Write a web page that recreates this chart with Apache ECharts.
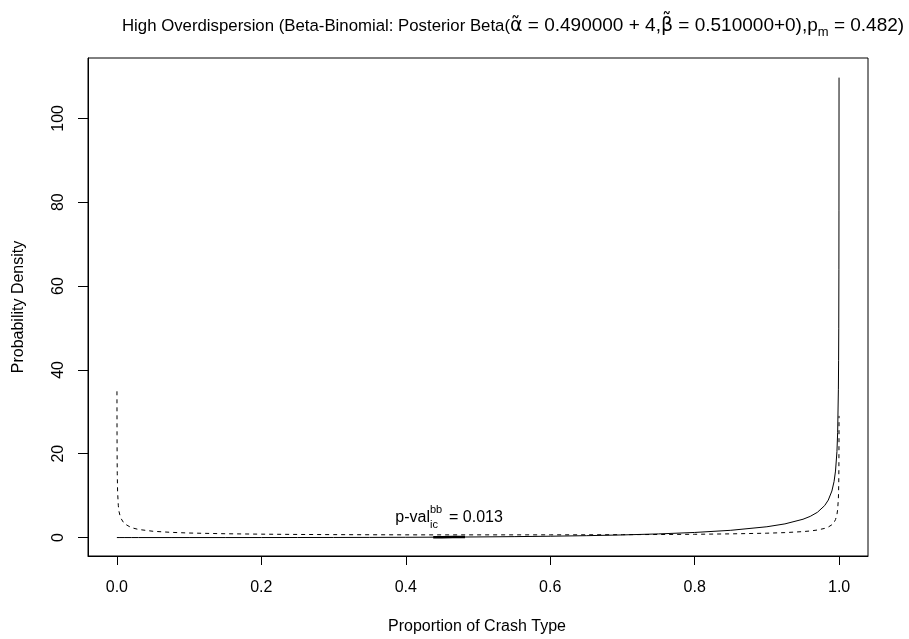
<!DOCTYPE html>
<html>
<head>
<meta charset="utf-8">
<script src="https://cdn.jsdelivr.net/npm/echarts@6/dist/echarts.min.js"></script>
<style>
html,body{margin:0;padding:0;background:#fff;}
#c{width:909px;height:639px;}
</style>
</head>
<body>
<div id="c"></div>
<script>
// Grid of proportions (denser near the ends)
var xs = [0, 0.0001, 0.0002, 0.0003, 0.0005, 0.001, 0.002, 0.003, 0.005, 0.01,
  0.02, 0.03, 0.05, 0.075, 0.1, 0.15, 0.2, 0.25, 0.3, 0.35,
  0.4, 0.45, 0.5, 0.55, 0.6, 0.65, 0.7, 0.75, 0.8, 0.85,
  0.9, 0.925, 0.95, 0.96, 0.97, 0.98, 0.985, 0.99, 0.993, 0.995,
  0.997, 0.998, 0.999, 0.9993, 0.9995, 0.9997, 0.9998, 0.9999];
// Prior density (dashed)
var priorDensity = [null, 34.89, 24.50, 19.92, 15.36, 10.79, 7.58, 6.17, 4.76, 3.35,
  2.36, 1.93, 1.50, 1.24, 1.08, 0.91, 0.81, 0.74, 0.70, 0.67,
  0.65, 0.64, 0.64, 0.64, 0.65, 0.66, 0.69, 0.73, 0.78, 0.88,
  1.04, 1.18, 1.42, 1.57, 1.80, 2.19, 2.51, 3.05, 3.63, 4.28,
  5.49, 6.69, 9.40, 11.18, 13.19, 16.94, 20.66, 29.02];
// Posterior density (solid)
var postDensity = [0, 0, 0, 0, 0, 0, 0, 0, 0, 0,
  0, 0, 0, 0, 0.0004, 0.002, 0.005, 0.011, 0.021, 0.038,
  0.063, 0.099, 0.151, 0.221, 0.317, 0.448, 0.625, 0.870, 1.216, 1.728,
  2.575, 3.262, 4.367, 5.053, 6.032, 7.627, 8.938, 11.10, 13.36, 15.86,
  20.52, 25.11, 35.39, 42.19, 49.79, 64.01, 78.10, 109.72];
// Tail region up to p_m
var tailX = [0.438, 0.45, 0.465, 0.482];
var tailY = [0.090, 0.099, 0.113, 0.130];
// Tick labels
var xTicks = [0, 0.2, 0.4, 0.6, 0.8, 1.0];
var yTicks = [0, 20, 40, 60, 80, 100];

function pairs(a, b) { return a.map(function (v, i) { return [v, b[i]]; }); }

var FONT = '"Liberation Sans", Arial, sans-serif';
var chart = echarts.init(document.getElementById('c'), null, {renderer: 'canvas'});
var base = {fontFamily: FONT, fontWeight: 'normal', color: '#000', lineHeight: 26, verticalAlign: 'middle'};
function st(o) { var r = {}; for (var k in base) r[k] = base[k]; for (var k2 in o) r[k2] = o[k2]; return r; }
chart.setOption({
  animation: false,
  backgroundColor: '#fff',
  textStyle: {fontFamily: FONT},
  title: {
    text: '{t|High Overdispersion (Beta-Binomial: Posterior Beta(}{g|\u03b1\u0303}{m| = 0.490000 + 4,}{g|\u03b2\u0303}{m| = 0.510000+0),p}{s|m}{m| = 0.482)}',
    left: 117, top: 8,
    textStyle: {
      fontWeight: 'normal',
      rich: {
        t: st({fontSize: 16.8}),
        m: st({fontSize: 19}),
        g: st({fontSize: 19, fontFamily: '"DejaVu Sans", sans-serif'}),
        s: st({fontSize: 13, verticalAlign: 'bottom'})
      }
    }
  },
  grid: {left: 88, top: 58, width: 780, height: 498, show: true, borderColor: '#000', borderWidth: 1, backgroundColor: 'transparent'},
  xAxis: {
    type: 'value', min: -0.04, max: 1.04,
    axisLine: {show: true, onZero: false, lineStyle: {color: '#000', width: 1}},
    splitLine: {show: false},
    axisTick: {show: true, length: 9, lineStyle: {color: '#000'}, customValues: xTicks},
    axisLabel: {customValues: xTicks, margin: 24, fontSize: 16, color: '#000', fontFamily: FONT,
      formatter: function (v) { return v.toFixed(1); }}
  },
  yAxis: {
    type: 'value', min: -4.4, max: 114.4,
    axisLine: {show: true, onZero: false, lineStyle: {color: '#000', width: 1}},
    splitLine: {show: false},
    axisTick: {show: true, length: 10, lineStyle: {color: '#000'}, customValues: yTicks},
    axisLabel: {customValues: yTicks, margin: 21, rotate: 90, fontSize: 16, color: '#000', fontFamily: FONT}
  },
  series: [
    {type: 'line', data: pairs(xs, postDensity), showSymbol: false, symbol: 'none',
      lineStyle: {color: '#000', width: 1}, z: 3},
    {type: 'line', data: pairs(xs, priorDensity), showSymbol: false, symbol: 'none',
      lineStyle: {color: '#000', width: 1, type: [4, 4]}, z: 2},
    {type: 'line', data: pairs(tailX, tailY), showSymbol: false, symbol: 'none',
      lineStyle: {color: '#000', width: 2.5}, z: 4}
  ],
  graphic: [
    {type: 'text', x: 477, y: 627, style: {text: 'Proportion of Crash Type', font: '16px ' + FONT, fill: '#000', textAlign: 'center', textVerticalAlign: 'middle'}},
    {type: 'text', rotation: Math.PI / 2, x: 19, y: 307, style: {text: 'Probability Density', font: '16px ' + FONT, fill: '#000', textAlign: 'center', textVerticalAlign: 'middle'}},
    {type: 'text', x: 430, y: 518, style: {text: 'p-val', font: '16px ' + FONT, fill: '#000', textAlign: 'right', textVerticalAlign: 'middle'}},
    {type: 'text', x: 430, y: 510, style: {text: 'bb', font: '11px ' + FONT, fill: '#000', textAlign: 'left', textVerticalAlign: 'middle'}},
    {type: 'text', x: 430, y: 525, style: {text: 'ic', font: '11px ' + FONT, fill: '#000', textAlign: 'left', textVerticalAlign: 'middle'}},
    {type: 'text', x: 449, y: 518, style: {text: '= 0.013', font: '16px ' + FONT, fill: '#000', textAlign: 'left', textVerticalAlign: 'middle'}}
  ]
});
</script>
</body>
</html>
